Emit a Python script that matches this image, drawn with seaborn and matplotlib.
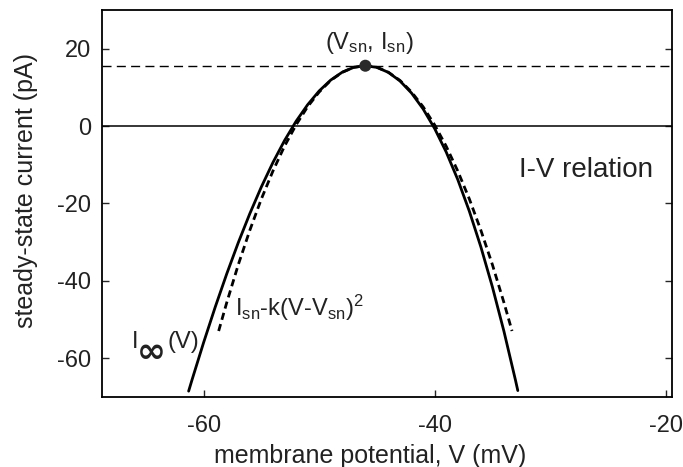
import numpy as np
import pandas as pd
import matplotlib
matplotlib.use("Agg")
import matplotlib.pyplot as plt
import seaborn as sns

# ---- data ----
iv_V = [-61.3, -61, -60, -59, -58, -57, -56, -55, -54, -53, -52, -51, -50,
        -49, -48, -47, -46, -45, -44, -43, -42, -41, -40, -39, -38, -37,
        -36, -35, -34, -33, -32.8]
iv_I = [-68.49, -65.51, -55.9, -46.78, -38.17, -30.10, -22.6, -15.69, -9.40,
        -3.75, 1.23, 5.51, 9.08, 11.89, 13.93, 15.18, 15.6, 15.17, 13.87,
        11.66, 8.53, 4.44, -0.63, -6.70, -13.80, -21.96, -31.2, -41.55,
        -53.03, -65.67, -68.34]

quad_V = [-58.7, -58, -57, -56, -55, -54, -53, -52, -51, -50, -49, -48, -47,
          -46, -45, -44, -43, -42, -41, -40, -39, -38, -37, -36, -35, -34, -33.3]
quad_I = [-52.95, -45.6, -35.8, -26.9, -18.8, -11.6, -5.2, 0.3, 5.0, 8.8, 11.8,
          13.9, 15.2, 15.6, 15.2, 13.9, 11.8, 8.8, 5.0, 0.3, -5.2, -11.6, -18.8,
          -26.9, -35.8, -45.6, -52.95]

V_sn = -46.0
I_sn = 15.6

x_ticks = [-60, -40, -20]
y_ticks = [-60, -40, -20, 0, 20]

# ---- style ----
sns.set_style("white")
plt.rcParams["font.family"] = ["Liberation Sans", "DejaVu Sans"]
plt.rcParams["mathtext.default"] = "regular"
plt.rcParams["axes.unicode_minus"] = False
txt_col = "#222222"

fig = plt.figure(figsize=(6.83, 4.67), dpi=100)
ax = fig.add_axes([102 / 683, 1 - 397 / 467, 570 / 683, 387 / 467])

iv_df = pd.DataFrame({"V": iv_V, "I": iv_I})
q_df = pd.DataFrame({"V": quad_V, "I": quad_I})

ax.axhline(0, color="black", lw=1.1, zorder=1)
ax.axhline(I_sn, color="black", lw=1.0, ls=(0, (6.5, 3.8)), zorder=1)

sns.lineplot(data=iv_df, x="V", y="I", sort=False, color="black", lw=2.0,
             ax=ax, zorder=3)
sns.lineplot(data=q_df, x="V", y="I", sort=False, color="black", lw=2.0,
             ax=ax, zorder=2)
ax.lines[-1].set_linestyle((0, (2.6, 1.6)))

sns.scatterplot(x=[V_sn], y=[I_sn], color="#2a2a2a", s=75, edgecolor="none",
                ax=ax, zorder=4)

ax.set_xlim(-68.8, -19.45)
ax.set_ylim(-70, 30)
ax.set_xticks(x_ticks)
ax.set_yticks(y_ticks)
ax.tick_params(direction="in", length=5, width=1.0, labelsize=17,
               labelcolor=txt_col, pad=8, right=True, top=False, left=True,
               bottom=True)
ax.tick_params(axis="x", pad=13)
for s in ax.spines.values():
    s.set_visible(True)
    s.set_color("black")
    s.set_linewidth(1.3)

ax.set_xlabel("membrane potential, V (mV)", fontsize=18, color=txt_col)
ax.set_ylabel("steady-state current (pA)", fontsize=18, color=txt_col)
ax.xaxis.set_label_coords((370 - 102) / 570, -(444 - 397) / 387)
ax.yaxis.set_label_coords(-(102 - 38) / 570, (397 - 191) / 387)

ax.text(-45.7, 21.4, "(V$_{sn}$, I$_{sn}$)", fontsize=17, color=txt_col,
        ha="center", va="center")
ax.text(-26.9, -11.4, "I-V relation", fontsize=20, color=txt_col,
        ha="center", va="center")
# I_inf(V) label, built from pieces so the infinity sign can be large
ax.text(-66.2, -55.9, "I", fontsize=17, color=txt_col, ha="left", va="center")
ax.text(-64.5, -58.4, "\u221e", fontsize=25, fontweight="bold",
        color=txt_col, ha="center", va="center",
        family=["DejaVu Sans"])
ax.text(-63.1, -55.9, "(V)", fontsize=17, color=txt_col, ha="left", va="center")
ax.text(-57.3, -47.0, "I$_{sn}$-k(V-V$_{sn}$)$^2$", fontsize=17, color=txt_col,
        ha="left", va="center")

fig.savefig("out.png", dpi=100)
